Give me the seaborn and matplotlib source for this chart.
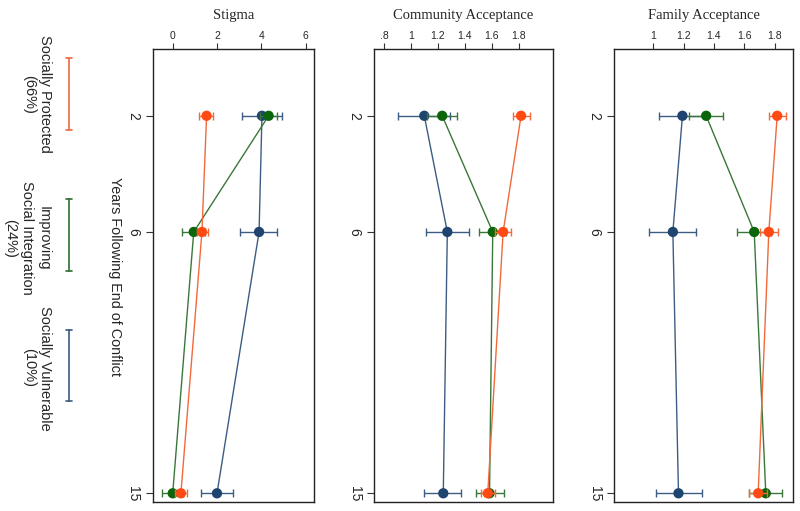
import numpy as np
import pandas as pd
import matplotlib
matplotlib.use("Agg")
import matplotlib.pyplot as plt
import seaborn as sns

# ---------------- data ----------------
years = [2, 6, 15]
groups = ["Socially Vulnerable", "Improving Social Integration", "Socially Protected"]
legend_labels = ["Socially Protected\n(66%)", "Improving\nSocial Integration\n(24%)", "Socially Vulnerable\n(10%)"]

panels = ["Stigma", "Community Acceptance", "Family Acceptance"]

# Stigma
stigma_prot = [1.53, 1.32, 0.37]
stigma_prot_lo = [1.20, 1.08, 0.10]
stigma_prot_hi = [1.83, 1.60, 0.66]
stigma_impr = [4.33, 0.95, 0.00]
stigma_impr_lo = [3.95, 0.42, -0.50]
stigma_impr_hi = [4.72, 1.48, 0.45]
stigma_vuln = [4.03, 3.90, 2.00]
stigma_vuln_lo = [3.14, 3.02, 1.28]
stigma_vuln_hi = [4.92, 4.71, 2.71]

# Community acceptance
comm_prot = [1.817, 1.684, 1.570]
comm_prot_lo = [1.756, 1.622, 1.520]
comm_prot_hi = [1.880, 1.746, 1.620]
comm_impr = [1.232, 1.607, 1.583]
comm_impr_lo = [1.120, 1.504, 1.480]
comm_impr_hi = [1.340, 1.705, 1.687]
comm_vuln = [1.099, 1.270, 1.240]
comm_vuln_lo = [0.906, 1.109, 1.099]
comm_vuln_hi = [1.290, 1.430, 1.375]

# Family acceptance
fam_prot = [1.816, 1.761, 1.691]
fam_prot_lo = [1.761, 1.702, 1.632]
fam_prot_hi = [1.873, 1.820, 1.750]
fam_impr = [1.349, 1.665, 1.741]
fam_impr_lo = [1.235, 1.555, 1.633]
fam_impr_hi = [1.463, 1.775, 1.849]
fam_vuln = [1.193, 1.130, 1.167]
fam_vuln_lo = [1.037, 0.976, 1.018]
fam_vuln_hi = [1.350, 1.285, 1.322]

stigma_ticks = [0, 2, 4, 6]
stigma_ticklabels = ["0", "2", "4", "6"]
comm_ticks = [0.8, 1.0, 1.2, 1.4, 1.6, 1.8]
comm_ticklabels = [".8", "1", "1.2", "1.4", "1.6", "1.8"]
fam_ticks = [1.0, 1.2, 1.4, 1.6, 1.8]
fam_ticklabels = ["1", "1.2", "1.4", "1.6", "1.8"]

# ---------------- style ----------------
sns.set_style("white")
plt.rcParams["font.family"] = ["Liberation Sans", "DejaVu Sans"]

marker_colors = {"Socially Protected": "#FF4A14",
                 "Improving Social Integration": "#0B650B",
                 "Socially Vulnerable": "#1F4470"}
line_colors = {"Socially Protected": "#F2693A",
               "Improving Social Integration": "#3A773A",
               "Socially Vulnerable": "#3D5C84"}
legend_colors = ["#EE6A45", "#2E6E2E", "#3A5A80"]


def make_df(prot, plo, phi, impr, ilo, ihi, vuln, vlo, vhi):
    rows = []
    for g, v, lo, hi in [("Socially Protected", prot, plo, phi),
                         ("Improving Social Integration", impr, ilo, ihi),
                         ("Socially Vulnerable", vuln, vlo, vhi)]:
        for y, val, l, h in zip(years, v, lo, hi):
            rows.append(dict(group=g, year=y, value=val, lo=l, hi=h))
    return pd.DataFrame(rows)


dfs = [
    make_df(stigma_prot, stigma_prot_lo, stigma_prot_hi, stigma_impr, stigma_impr_lo, stigma_impr_hi,
            stigma_vuln, stigma_vuln_lo, stigma_vuln_hi),
    make_df(comm_prot, comm_prot_lo, comm_prot_hi, comm_impr, comm_impr_lo, comm_impr_hi,
            comm_vuln, comm_vuln_lo, comm_vuln_hi),
    make_df(fam_prot, fam_prot_lo, fam_prot_hi, fam_impr, fam_impr_lo, fam_impr_hi,
            fam_vuln, fam_vuln_lo, fam_vuln_hi),
]
xlims = [(-0.89, 6.38), (0.726, 2.054), (0.743, 1.92)]
ticks = [stigma_ticks, comm_ticks, fam_ticks]
ticklabels = [stigma_ticklabels, comm_ticklabels, fam_ticklabels]

W, H = 800, 511
fig = plt.figure(figsize=(8.0, 5.11), dpi=100)

ax_top, ax_bot = 49, 502
boxes = [(153, 314), (374, 553), (614, 793)]

for i, (l, r) in enumerate(boxes):
    ax = fig.add_axes([l / W, 1 - ax_bot / H, (r - l) / W, (ax_bot - ax_top) / H])
    df = dfs[i]
    for k, g in enumerate(groups):
        sub = df[df["group"] == g]
        z = 3 + k * 3
        ax.errorbar(sub["value"], sub["year"],
                    xerr=[sub["value"] - sub["lo"], sub["hi"] - sub["value"]],
                    fmt="none", ecolor=line_colors[g], elinewidth=1.0, capsize=3, capthick=1.0,
                    zorder=z)
        sns.lineplot(data=sub, x="value", y="year", orient="y", estimator=None, sort=True,
                     color=line_colors[g], linewidth=1.0, ax=ax, zorder=z + 1, legend=False)
        sns.scatterplot(data=sub, x="value", y="year", color=marker_colors[g], s=55,
                        edgecolor="none", ax=ax, zorder=z + 2, legend=False)
    ax.set_xlim(*xlims[i])
    ax.set_ylim(15.30, -0.30)
    ax.xaxis.tick_top()
    ax.set_xticks(ticks[i])
    ax.set_xticklabels(ticklabels[i], fontsize=7.5)
    ax.set_yticks(years)
    ax.set_yticklabels([str(y) for y in years], fontsize=10, rotation=-90, va="center")
    ax.tick_params(axis="x", which="both", top=True, bottom=False, length=4, width=0.8,
                   pad=2, color="#333333")
    ax.tick_params(axis="y", which="both", left=True, length=5, width=0.8, pad=4,
                   color="#333333")
    ax.set_xlabel("")
    ax.set_ylabel("")
    for s in ax.spines.values():
        s.set_visible(True)
        s.set_color("#222222")
        s.set_linewidth(1.0)
    ax.text(0.5, 1 + (ax_top - 15) / (ax_bot - ax_top), panels[i], transform=ax.transAxes,
            ha="center", va="center", fontsize=10.5, family=["Liberation Serif", "DejaVu Serif"])

# y label
fig.text(115 / W, 1 - 276 / H, "Years Following End of Conflict", rotation=-90,
         ha="center", va="center", fontsize=10.4)

# legend (drawn in a pixel-unit overlay axes)
lax = fig.add_axes([0, 0, 150 / W, 1])
lax.set_xlim(0, 150)
lax.set_ylim(H, 0)
lax.axis("off")
leg_bars = [(58, 130), (199, 271), (330, 401)]
leg_text_pos = [(37, 94), (27, 238), (37, 368)]
for (y0, y1), (tx, ty), lab, c in zip(leg_bars, leg_text_pos, legend_labels, legend_colors):
    lax.plot([69, 69], [y0, y1], color=c, lw=1.2)
    lax.plot([66, 72], [y0, y0], color=c, lw=1.2)
    lax.plot([66, 72], [y1, y1], color=c, lw=1.2)
    lax.text(tx, ty, lab, rotation=-90, ha="center", va="center", multialignment="center",
             fontsize=10.5, linespacing=1.25)

fig.savefig("out.png", dpi=100)
